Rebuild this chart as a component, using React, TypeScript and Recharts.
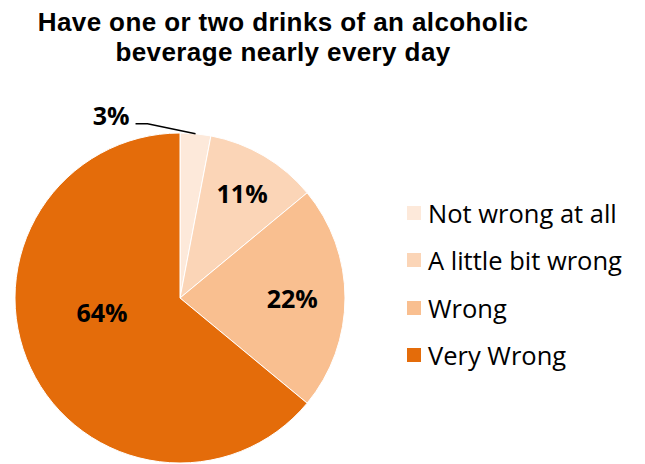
import React from 'react';
import { PieChart, Pie, Cell, Legend } from 'recharts';

const categories = ['Not wrong at all', 'A little bit wrong', 'Wrong', 'Very Wrong'];
const shares = [3, 11, 22, 64];
const colors = ['#FDE9DA', '#FBD5B7', '#F9BF90', '#E46C0A'];
// how far out each label sits, as a share of the radius
const labelRadius = [1.2, 0.74, 0.68, 0.5];

const data = categories.map((name, i) => ({ name, value: shares[i] }));

const RADIAN = Math.PI / 180;
const FONT = "'Open Sans', sans-serif";

const renderLabel = (props: any) => {
  const { cx, cy, midAngle, outerRadius, index, value } = props;
  const cos = Math.cos(-midAngle * RADIAN);
  const sin = Math.sin(-midAngle * RADIAN);
  if (index === 0) {
    const sx = cx + outerRadius * cos;
    const sy = cy + outerRadius * sin;
    const mx = sx - 48;
    const my = sy - 10;
    const ex = mx - 12;
    return (
      <g>
        <polyline points={`${sx},${sy} ${mx},${my} ${ex},${my}`} fill="none" stroke="#000" strokeWidth={1.5} />
        <text x={ex - 6} y={my - 9} textAnchor="end" dominantBaseline="central" fontSize={25} fontWeight={700} fill="#000" fontFamily={FONT}>
          {value}%
        </text>
      </g>
    );
  }
  const r = outerRadius * labelRadius[index];
  let x = cx + r * cos;
  let y = cy + r * sin;
  if (index === 3) {
    x = cx - 78;
    y = cy + 14;
  }
  return (
    <text x={x} y={y} textAnchor="middle" dominantBaseline="central" fontSize={25} fontWeight={700} fill="#000" fontFamily={FONT}>
      {value}%
    </text>
  );
};

const LegendContent = () => (
  <div style={{ fontFamily: FONT, fontSize: 25.5, color: '#000' }}>
    {categories.map((c, i) => (
      <div key={c} style={{ display: 'flex', alignItems: 'center', height: 47.5 }}>
        <span style={{ width: 14, height: 14, background: colors[i], marginRight: 7, display: 'inline-block', flexShrink: 0 }} />
        <span style={{ whiteSpace: 'nowrap' }}>{c}</span>
      </div>
    ))}
  </div>
);

export default function App() {
  return (
    <div style={{ position: 'absolute', left: 0, top: 0, width: 645, height: 464, background: '#fff' }}>
      <div
        style={{
          position: 'absolute',
          left: 0,
          top: 7,
          width: 566,
          textAlign: 'center',
          fontFamily: "'Liberation Sans', Arial, sans-serif",
          fontWeight: 700,
          fontSize: 26,
          letterSpacing: 0.4,
          lineHeight: '30px',
          color: '#000',
          zIndex: 1,
        }}
      >
        Have one or two drinks of an alcoholic
        <br />
        beverage nearly every day
      </div>
      <PieChart width={645} height={464} margin={{ top: 0, right: 0, bottom: 0, left: 0 }}>
        <Pie
          data={data}
          dataKey="value"
          nameKey="name"
          cx={180}
          cy={298}
          outerRadius={165}
          startAngle={90}
          endAngle={-270}
          stroke="#fff"
          strokeWidth={1}
          label={renderLabel}
          labelLine={false}
          isAnimationActive={false}
        >
          {data.map((d, i) => (
            <Cell key={d.name} fill={colors[i]} />
          ))}
        </Pie>
        <Legend
          layout="vertical"
          content={<LegendContent />}
          wrapperStyle={{ position: 'absolute', left: 407, top: 189, width: 238 }}
        />
      </PieChart>
    </div>
  );
}
